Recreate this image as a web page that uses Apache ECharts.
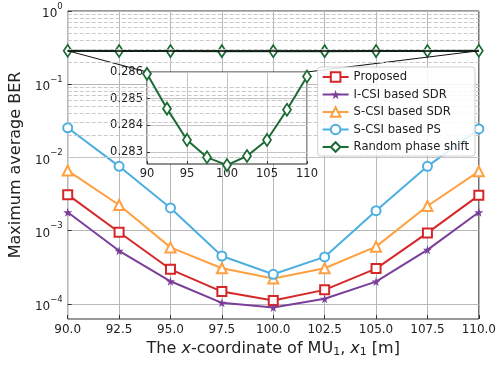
<!DOCTYPE html>
<html>
<head>
<meta charset="utf-8">
<script src="https://cdn.jsdelivr.net/npm/echarts@6/dist/echarts.min.js"></script>
<style>
  html, body { margin: 0; padding: 0; background: #fff; }
  #chart { width: 499px; height: 365px; }
</style>
</head>
<body>
<div id="chart"></div>
<script>
// x-coordinate of MU1 (m)
const xPositions = [90, 92.5, 95, 97.5, 100, 102.5, 105, 107.5, 110];

// maximum average BER per scheme
const proposed   = [3.1e-3, 9.5e-4, 2.96e-4, 1.47e-4, 1.11e-4, 1.55e-4, 3.03e-4, 9.3e-4, 3.03e-3];
const icsiSdr    = [1.78e-3, 5.3e-4, 2.03e-4, 1.03e-4, 8.9e-5, 1.17e-4, 2.01e-4, 5.45e-4, 1.78e-3];
const scsiSdr    = [6.6e-3, 2.24e-3, 5.9e-4, 3.06e-4, 2.21e-4, 3.06e-4, 6.04e-4, 2.17e-3, 6.45e-3];
const scsiPs     = [2.54e-2, 7.55e-3, 2.04e-3, 4.5e-4, 2.53e-4, 4.37e-4, 1.87e-3, 7.55e-3, 2.45e-2];
const randomPhase = [0.28593, 0.28463, 0.28346, 0.28281, 0.28252, 0.28286, 0.28346, 0.28459, 0.28583];

// tick labels
const mainXTicks = [90, 92.5, 95, 97.5, 100, 102.5, 105, 107.5, 110];
const mainYTicks = [1e-4, 1e-3, 1e-2, 1e-1, 1];
const insetXTicks = [90, 95, 100, 105, 110];
const insetYTicks = [0.283, 0.284, 0.285, 0.286];

const seriesNames = ['Proposed', 'I-CSI based SDR', 'S-CSI based SDR', 'S-CSI based PS', 'Random phase shift'];
const colors = ['#d62728', '#7b3f9a', '#ffa040', '#4cafe0', '#1b6b35'];

const yMin = 6.2e-5, yMax = 1;
const insetYMin = 0.28256, insetYMax = 0.286;

const FONT = 'DejaVu Sans';
const STAR = 'path://M50,0 L61,35 L98,35 L68,57 L79,91 L50,70 L21,91 L32,57 L2,35 L39,35 Z';

// dashed minor grid at 2..9 x 10^k
const minorGrid = [];
for (let k = -5; k <= -1; k++) {
  for (let m = 2; m <= 9; m++) {
    const v = m * Math.pow(10, k);
    if (v > yMin && v < yMax) minorGrid.push(v);
  }
}

const pairs = arr => xPositions.map((x, i) => [x, arr[i]]);

function supLabel(v) {
  const e = Math.round(Math.log10(v));
  return '{b|10}{s|' + (e < 0 ? '\u2212' + (-e) : e) + '}';
}

const hollow = (c, w) => ({ color: '#fff', borderColor: c, borderWidth: w });

const chart = echarts.init(document.getElementById('chart'), null, { renderer: 'canvas' });

const option = {
  animation: false,
  backgroundColor: '#fff',
  textStyle: { fontFamily: FONT },
  grid: [
    { left: 65, right: 18, top: 11, bottom: 46, show: true, borderColor: '#333', borderWidth: 1, backgroundColor: 'transparent', z: 0 },
    { left: 147, right: 192, top: 72, bottom: 201, show: true, borderColor: '#222', borderWidth: 1, backgroundColor: '#fff', z: 3 }
  ],
  xAxis: [
    {
      gridIndex: 0, type: 'value', min: 90, max: 110, interval: 2.5,
      name: 'The {i|x}-coordinate of MU{sub|1}, {i|x}{sub|1} [m]',
      nameLocation: 'middle', nameGap: 21,
      nameTextStyle: {
        fontFamily: FONT, fontSize: 16, color: '#222',
        rich: {
          i: { fontFamily: FONT, fontSize: 16, fontStyle: 'italic', color: '#222' },
          sub: { fontFamily: FONT, fontSize: 11, color: '#222', verticalAlign: 'bottom', padding: [6, 0, 0, 0] }
        }
      },
      axisLine: { show: false },
      axisTick: { show: true, inside: true, length: 4, lineStyle: { color: '#333' } },
      axisLabel: { fontFamily: FONT, fontSize: 12, color: '#222', margin: 5, formatter: v => v.toFixed(1), showMinLabel: true, showMaxLabel: true },
      splitLine: { show: true, lineStyle: { color: '#b8b8b8', width: 1 } }
    },
    {
      gridIndex: 1, type: 'value', min: 90, max: 110, interval: 5, z: 4,
      axisLine: { show: false },
      axisTick: { show: true, inside: true, length: 3, lineStyle: { color: '#333' }, customValues: insetXTicks },
      axisLabel: { fontFamily: FONT, fontSize: 11.5, color: '#222', margin: 4, customValues: insetXTicks, showMinLabel: true, showMaxLabel: true },
      splitLine: { show: true, lineStyle: { color: '#c4c4c4', width: 1 } }
    }
  ],
  yAxis: [
    {
      gridIndex: 0, type: 'log', logBase: 10, min: yMin, max: yMax,
      name: 'Maximum average BER', nameLocation: 'middle', nameGap: 39,
      nameTextStyle: { fontFamily: FONT, fontSize: 16, color: '#222' },
      axisLine: { show: false },
      axisTick: { show: true, inside: true, length: 4, lineStyle: { color: '#333' }, customValues: mainYTicks },
      axisLabel: {
        fontFamily: FONT, color: '#222', margin: 5, customValues: mainYTicks,
        showMinLabel: true, showMaxLabel: true,
        formatter: supLabel,
        rich: {
          b: { fontFamily: FONT, fontSize: 12, color: '#222', verticalAlign: 'bottom', lineHeight: 18 },
          s: { fontFamily: FONT, fontSize: 8.5, color: '#222', verticalAlign: 'top', lineHeight: 18 }
        }
      },
      splitLine: { show: true, lineStyle: { color: '#b8b8b8', width: 1 } }
    },
    {
      gridIndex: 1, type: 'value', min: insetYMin, max: insetYMax, z: 4,
      axisLine: { show: false },
      axisTick: { show: true, inside: true, length: 3, lineStyle: { color: '#333' }, customValues: insetYTicks },
      axisLabel: { fontFamily: FONT, fontSize: 11.5, color: '#222', margin: 4, customValues: insetYTicks, formatter: v => v.toFixed(3), showMaxLabel: true },
      splitLine: { show: true, lineStyle: { color: '#c4c4c4', width: 1 } }
    }
  ],
  legend: {
    data: seriesNames,
    orient: 'vertical', right: 24, top: 67, z: 10,
    backgroundColor: 'rgba(255,255,255,0.85)', borderColor: '#d0d0d0', borderWidth: 1, borderRadius: 3,
    padding: [4, 6, 3, 4], itemGap: 5.5, itemWidth: 26, itemHeight: 12,
    textStyle: { fontFamily: FONT, fontSize: 11.6, color: '#222' }
  },
  series: [
    {
      // minor (dashed) horizontal grid of the log axis
      type: 'line', xAxisIndex: 0, yAxisIndex: 0, data: [], z: 1, silent: true,
      markLine: {
        silent: true, symbol: ['none', 'none'], label: { show: false },
        lineStyle: { color: '#c8c8c8', type: [4, 2], width: 1 },
        emphasis: { disabled: true },
        data: minorGrid.map(v => ({ yAxis: v }))
      }
    },
    {
      name: seriesNames[0], type: 'line', xAxisIndex: 0, yAxisIndex: 0, data: pairs(proposed), z: 3,
      symbol: 'rect', symbolSize: 9, lineStyle: { color: colors[0], width: 2 }, itemStyle: hollow(colors[0], 2)
    },
    {
      name: seriesNames[1], type: 'line', xAxisIndex: 0, yAxisIndex: 0, data: pairs(icsiSdr), z: 3,
      symbol: STAR, symbolSize: 9, lineStyle: { color: colors[1], width: 2 }, itemStyle: { color: colors[1] }
    },
    {
      name: seriesNames[2], type: 'line', xAxisIndex: 0, yAxisIndex: 0, data: pairs(scsiSdr), z: 3,
      symbol: 'triangle', symbolSize: 10, lineStyle: { color: colors[2], width: 2 }, itemStyle: hollow(colors[2], 2)
    },
    {
      name: seriesNames[3], type: 'line', xAxisIndex: 0, yAxisIndex: 0, data: pairs(scsiPs), z: 3,
      symbol: 'circle', symbolSize: 9, lineStyle: { color: colors[3], width: 2 }, itemStyle: hollow(colors[3], 2)
    },
    {
      name: seriesNames[4], type: 'line', xAxisIndex: 0, yAxisIndex: 0, data: pairs(randomPhase), z: 3,
      symbol: 'diamond', symbolSize: [8, 12], lineStyle: { color: colors[4], width: 2 }, itemStyle: hollow(colors[4], 1.8)
    },
    {
      name: seriesNames[4], type: 'line', xAxisIndex: 1, yAxisIndex: 1, data: pairs(randomPhase), z: 6, clip: false,
      symbol: 'diamond', symbolSize: [8, 12], lineStyle: { color: colors[4], width: 2 }, itemStyle: hollow(colors[4], 1.8)
    }
  ]
};

chart.setOption(option);

// zoom-region box on the main axes and the two connectors to the inset corners
const p = (g, x, y) => chart.convertToPixel({ gridIndex: g }, [x, y]);
const a0 = p(0, 90, insetYMax), a1 = p(0, 110, insetYMax), a2 = p(0, 90, insetYMin);
const b0 = p(1, 90, insetYMax), b1 = p(1, 110, insetYMax);
chart.setOption({
  graphic: [
    { type: 'rect', z: 4, silent: true, shape: { x: a0[0], y: a0[1], width: a1[0] - a0[0], height: Math.max(a2[1] - a0[1], 0.5) }, style: { fill: 'none', stroke: '#111', lineWidth: 1 } },
    { type: 'line', z: 4, silent: true, shape: { x1: a0[0], y1: a0[1], x2: b0[0], y2: b0[1] }, style: { stroke: '#111', lineWidth: 1 } },
    { type: 'line', z: 4, silent: true, shape: { x1: a1[0], y1: a1[1], x2: b1[0], y2: b1[1] }, style: { stroke: '#111', lineWidth: 1 } }
  ]
});
</script>
</body>
</html>
